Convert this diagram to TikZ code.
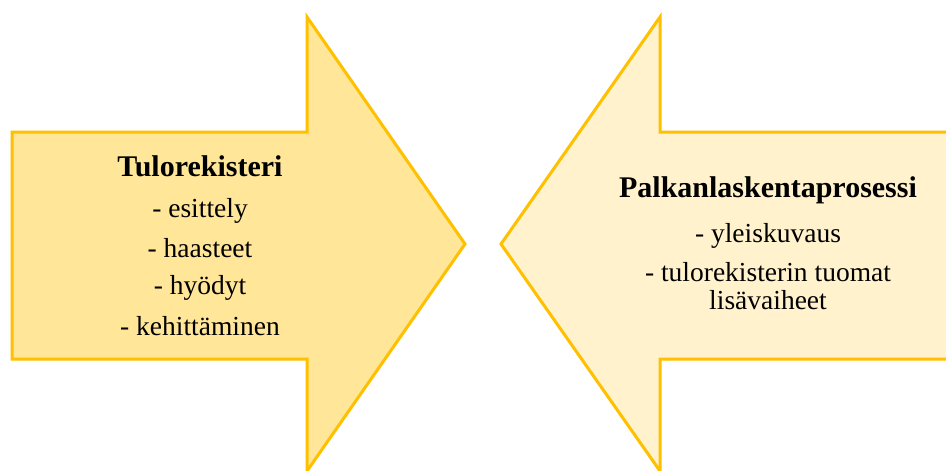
\documentclass[tikz,border=0pt]{standalone}
\usepackage{fontspec}
\setmainfont{Liberation Serif}
\definecolor{gold}{HTML}{FFC000}
\definecolor{fillA}{HTML}{FFE699}
\definecolor{fillB}{HTML}{FFF2CC}
\begin{document}
\begin{tikzpicture}[x=1pt,y=-1pt,
  arrowshape/.style={draw=gold,line width=3pt,line join=miter},
  titletext/.style={font=\fontsize{30}{34}\selectfont\bfseries,align=center,inner sep=0pt},
  itemtext/.style={font=\fontsize{27.5}{28}\selectfont,align=center,inner sep=0pt}]
\useasboundingbox (0,0) rectangle (946,471);
\clip (0,0) rectangle (946,471);
\fill[white] (0,0) rectangle (946,471);
% left arrow
\draw[arrowshape,fill=fillA] (12,132) -- (307,132) -- (307,17) -- (465,244) -- (307,471) -- (307,359) -- (12,359) -- cycle;
% right arrow
\draw[arrowshape,fill=fillB] (960,132) -- (660,132) -- (660,17) -- (501,244) -- (660,471) -- (660,359) -- (960,359) -- cycle;
% left text
\node[titletext] (t1) at (200,166) {Tulorekisteri};
\node[itemtext] (a1) at (200,211) {- esittely};
\node[itemtext] (a2) at (200,248) {- haasteet};
\node[itemtext] (a3) at (200,288) {- hyödyt};
\node[itemtext] (a4) at (200,326) {- kehittäminen};
% right text
\node[titletext] (t2) at (768,190) {Palkanlaskentaprosessi};
\node[itemtext] (b1) at (768,236) {- yleiskuvaus};
\node[itemtext] (b2) at (768,286) {- tulorekisterin tuomat\\lisävaiheet};
\end{tikzpicture}
\end{document}
